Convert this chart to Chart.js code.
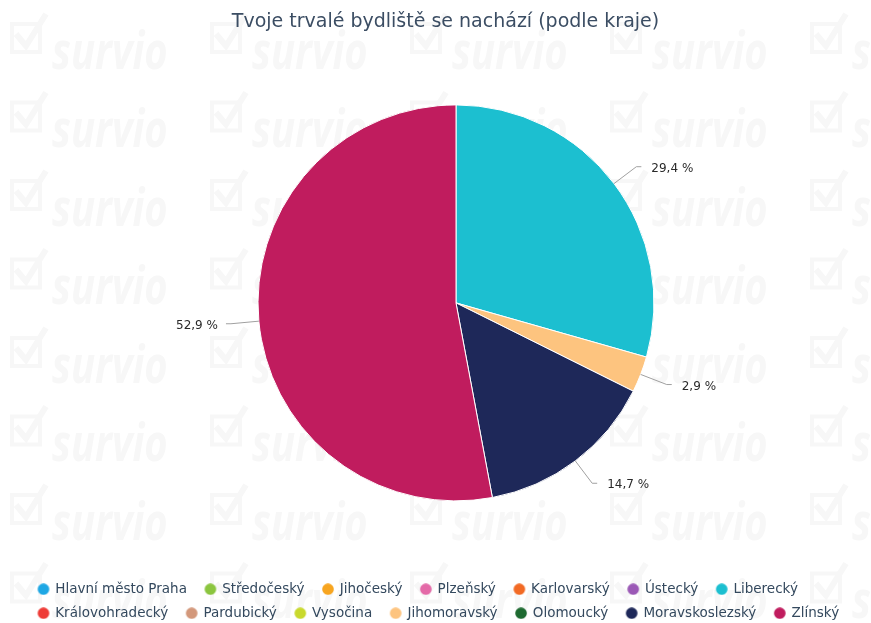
<!DOCTYPE html>
<html>
<head>
<meta charset="utf-8">
<script src="https://cdn.jsdelivr.net/npm/chart.js@4/dist/chart.umd.min.js"></script>
<style>
  html, body { margin: 0; padding: 0; background: #fff; }
  #wrap { width: 871px; height: 623px; }
</style>
</head>
<body>
<div id="wrap"><canvas id="myChart" width="871" height="623"></canvas></div>
<script>
// regions (legend order) and respondent counts
const regions = ['Hlavní město Praha', 'Středočeský', 'Jihočeský', 'Plzeňský', 'Karlovarský', 'Ústecký', 'Liberecký',
    'Královohradecký', 'Pardubický', 'Vysočina', 'Jihomoravský', 'Olomoucký', 'Moravskoslezský', 'Zlínský'];
const counts = [0, 0, 0, 0, 0, 0, 10, 0, 0, 0, 1, 0, 5, 18];
const colors = ['#1ea7e4', '#8bc53f', '#f7a520', '#e46aa8', '#f26a24', '#9b59b6', '#1cbfd0',
    '#ee3b36', '#d3987b', '#c9d92d', '#fdc47f', '#1e6a31', '#1e2859', '#c01c5e'];

// legend dot, drawn off-centre so there is more room before it than after it
function dot(color) {
    const cv = document.createElement('canvas');
    cv.width = 26;
    cv.height = 12;
    const c = cv.getContext('2d');
    c.fillStyle = color;
    c.beginPath();
    c.arc(17, 6, 5.8, 0, Math.PI * 2);
    c.fill();
    return cv;
}

// faint survio watermark behind everything
const watermark = {
    id: 'watermark',
    beforeDraw(chart) {
        const c = chart.ctx;
        c.save();
        c.fillStyle = '#f7f7f7';
        c.strokeStyle = '#f7f7f7';
        c.font = 'italic bold 40px "Open Sans", sans-serif';
        for (let y = 54; y < 650; y += 78.5) {
            for (let x = 12; x < 880; x += 200) {
                c.lineWidth = 4;
                c.strokeRect(x, y - 30, 28, 28);
                c.lineWidth = 6;
                c.beginPath();
                c.moveTo(x + 4, y - 20);
                c.lineTo(x + 14, y - 8);
                c.lineTo(x + 34, y - 40);
                c.stroke();
                c.save();
                c.translate(x + 40, y);
                c.scale(1, 1.3);
                c.fillText('survio', 0, 0);
                c.restore();
            }
        }
        c.restore();
    }
};

// move the pie a little right of the canvas centre, as in the original
const shiftArea = {
    id: 'shiftArea',
    afterLayout(chart) {
        chart.chartArea.left += 10.5;
        chart.chartArea.right += 10.5;
    }
};

// percentage labels with leader lines
const sliceLabels = {
    id: 'sliceLabels',
    afterDatasetsDraw(chart) {
        const c = chart.ctx;
        const meta = chart.getDatasetMeta(0);
        const total = counts.reduce((a, b) => a + b, 0);
        c.save();
        c.font = '12px "DejaVu Sans", sans-serif';
        c.fillStyle = '#2a2a2a';
        c.strokeStyle = '#a0a0a0';
        c.lineWidth = 1;
        c.textBaseline = 'middle';
        meta.data.forEach((arc, i) => {
            if (!counts[i]) return;
            const p = arc.getProps(['x', 'y', 'startAngle', 'endAngle', 'outerRadius']);
            const mid = (p.startAngle + p.endAngle) / 2;
            const cos = Math.cos(mid), sin = Math.sin(mid);
            const x0 = p.x + cos * p.outerRadius, y0 = p.y + sin * p.outerRadius;
            const x1 = p.x + cos * (p.outerRadius + 28), y1 = p.y + sin * (p.outerRadius + 28);
            const right = cos >= 0;
            const x2 = x1 + (right ? 5 : -5);
            c.beginPath();
            c.moveTo(x0, y0);
            c.lineTo(x1, y1);
            c.lineTo(x2, y1);
            c.stroke();
            const txt = (counts[i] / total * 100).toFixed(1).replace('.', ',') + ' %';
            c.textAlign = right ? 'left' : 'right';
            c.fillText(txt, x2 + (right ? 10 : -8), y1 + 2);
        });
        c.restore();
    }
};

const baseLabels = Chart.overrides.pie.plugins.legend.labels.generateLabels;

const ctx = document.getElementById('myChart').getContext('2d');
new Chart(ctx, {
    type: 'pie',
    data: {
        labels: regions,
        datasets: [{
            data: counts,
            backgroundColor: colors,
            borderColor: '#fff',
            borderWidth: 1,
            radius: 198
        }]
    },
    options: {
        responsive: false,
        animation: false,
        layout: { padding: { top: 0, bottom: -7, left: 20, right: 0 } },
        plugins: {
            title: {
                display: true,
                text: 'Tvoje trvalé bydliště se nachází (podle kraje)',
                color: '#3b4d63',
                font: { family: 'DejaVu Sans', size: 19, weight: 'normal' },
                padding: { top: 11, bottom: 0 }
            },
            legend: {
                position: 'bottom',
                align: 'start',
                labels: {
                    usePointStyle: true,
                    pointStyleWidth: 18,
                    padding: 10.5,
                    color: '#34495e',
                    font: { family: 'DejaVu Sans', size: 13.5 },
                    generateLabels(chart) {
                        return baseLabels(chart).map(item => {
                            item.pointStyle = dot(colors[item.index]);
                            return item;
                        });
                    }
                }
            },
            tooltip: { enabled: false }
        }
    },
    plugins: [watermark, shiftArea, sliceLabels]
});
</script>
</body>
</html>
